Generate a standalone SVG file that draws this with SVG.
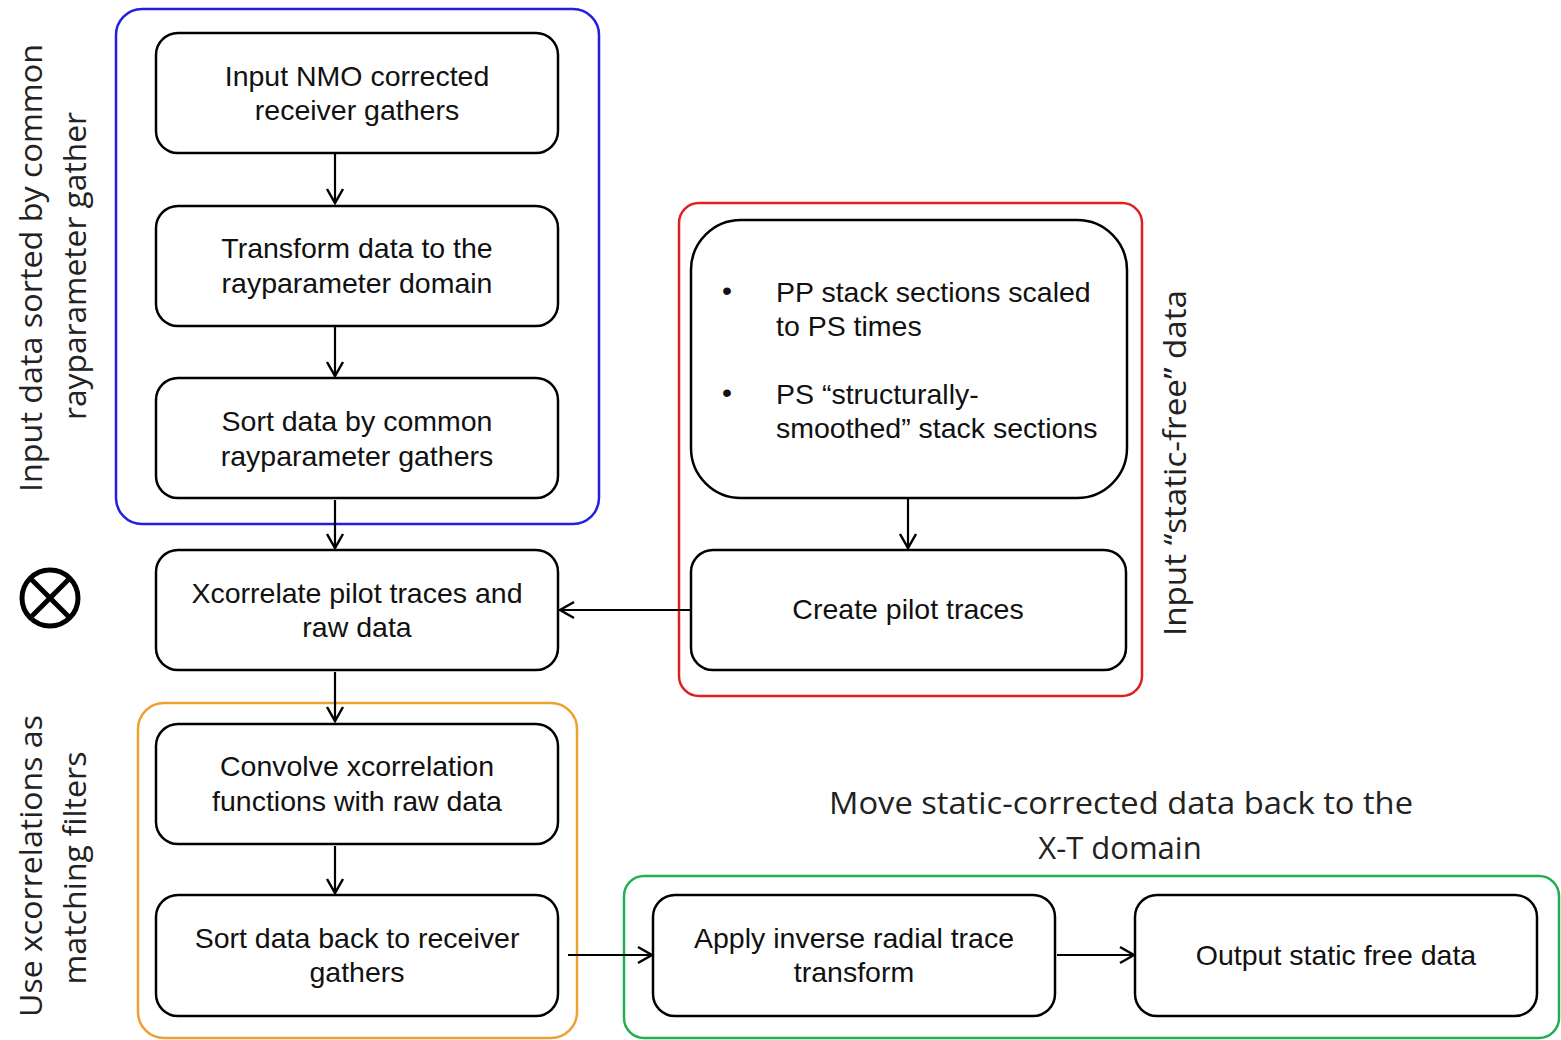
<svg xmlns="http://www.w3.org/2000/svg" width="1561" height="1040" viewBox="0 0 1561 1040">
<style>
.node rect{fill:#fff;stroke:#000;stroke-width:2.5}
.t{font-family:"Liberation Sans",Arial,sans-serif;font-size:28.5px;fill:#111;text-anchor:middle}
.tl{font-family:"Liberation Sans",Arial,sans-serif;font-size:28.5px;fill:#111}
.lab{font-family:"Open Sans","Noto Sans",sans-serif;font-size:31px;fill:#222;text-anchor:middle}
.grp{fill:none;stroke-width:2.5}
.conn line{stroke:#000;stroke-width:2.2;marker-end:url(#ah)}
</style>
<defs>
<marker id="ah" viewBox="0 0 20 20" refX="18" refY="10" markerWidth="20" markerHeight="20" markerUnits="userSpaceOnUse" orient="auto">
<path d="M4,2 L18,10 L4,18" fill="none" stroke="#000" stroke-width="2.5"/>
</marker>
</defs>
<rect width="1561" height="1040" fill="#fff"/>
<g id="groups">
<rect x="116" y="9" width="483" height="515" rx="26" class="grp" stroke="#2020e0"/>
<rect x="138" y="703" width="439" height="335" rx="26" class="grp" stroke="#f0a030"/>
<rect x="679" y="203" width="463" height="493" rx="20" class="grp" stroke="#e02020"/>
<rect x="624" y="876" width="935" height="162" rx="20" class="grp" stroke="#20b050"/>
</g>
<g id="labels">
<text class="lab" transform="translate(42,268) rotate(-90)" textLength="448" lengthAdjust="spacingAndGlyphs">Input data sorted by common</text>
<text class="lab" transform="translate(86,266) rotate(-90)" textLength="308" lengthAdjust="spacingAndGlyphs">rayparameter gather</text>
<text class="lab" transform="translate(42,866) rotate(-90)" textLength="302" lengthAdjust="spacingAndGlyphs">Use xcorrelations as</text>
<text class="lab" transform="translate(86,868) rotate(-90)" textLength="233" lengthAdjust="spacingAndGlyphs">matching filters</text>
<text class="lab" transform="translate(1186,463) rotate(-90)" textLength="346" lengthAdjust="spacingAndGlyphs">Input  “static-free” data</text>
<text class="lab" x="1121" y="814" textLength="584" lengthAdjust="spacingAndGlyphs">Move static-corrected data back to the</text>
<text class="lab" x="1120" y="859">X-T domain</text>
</g>
<g id="xor">
<circle cx="50" cy="598" r="28" fill="none" stroke="#000" stroke-width="5"/>
<line x1="30" y1="578" x2="70" y2="618" stroke="#000" stroke-width="5"/>
<line x1="70" y1="578" x2="30" y2="618" stroke="#000" stroke-width="5"/>
</g>
<g id="n1" class="node"><rect x="156" y="33" width="402" height="120" rx="22"/><text class="t" x="357" y="86">Input NMO corrected</text><text class="t" x="357" y="120">receiver gathers</text></g>
<g id="n2" class="node"><rect x="156" y="206" width="402" height="120" rx="22"/><text class="t" x="357" y="258">Transform data to the</text><text class="t" x="357" y="293">rayparameter domain</text></g>
<g id="n3" class="node"><rect x="156" y="378" width="402" height="120" rx="22"/><text class="t" x="357" y="431">Sort data by common</text><text class="t" x="357" y="466">rayparameter gathers</text></g>
<g id="n4" class="node"><rect x="156" y="550" width="402" height="120" rx="22"/><text class="t" x="357" y="603">Xcorrelate pilot traces and</text><text class="t" x="357" y="637">raw data</text></g>
<g id="n5" class="node"><rect x="156" y="724" width="402" height="120" rx="22"/><text class="t" x="357" y="776">Convolve xcorrelation</text><text class="t" x="357" y="811">functions with raw data</text></g>
<g id="n6" class="node"><rect x="156" y="895" width="402" height="121" rx="22"/><text class="t" x="357" y="948">Sort data back to receiver</text><text class="t" x="357" y="982">gathers</text></g>
<g id="n7" class="node"><rect x="691" y="220" width="436" height="278" rx="50"/>
<text class="tl" x="722" y="300">•</text><text class="tl" x="776" y="302">PP stack sections scaled</text><text class="tl" x="776" y="336">to PS times</text>
<text class="tl" x="722" y="402">•</text><text class="tl" x="776" y="404">PS “structurally-</text><text class="tl" x="776" y="438">smoothed” stack sections</text></g>
<g id="n8" class="node"><rect x="691" y="550" width="435" height="120" rx="22"/><text class="t" x="908" y="619">Create pilot traces</text></g>
<g id="n9" class="node"><rect x="653" y="895" width="402" height="121" rx="22"/><text class="t" x="854" y="948">Apply inverse radial trace</text><text class="t" x="854" y="982">transform</text></g>
<g id="n10" class="node"><rect x="1135" y="895" width="402" height="121" rx="22"/><text class="t" x="1336" y="965">Output static free data</text></g>
<g id="connectors" class="conn">
<line x1="335" y1="153" x2="335" y2="203"/>
<line x1="335" y1="326" x2="335" y2="376"/>
<line x1="335" y1="500" x2="335" y2="548"/>
<line x1="335" y1="672" x2="335" y2="721"/>
<line x1="335" y1="846" x2="335" y2="893"/>
<line x1="908" y1="498" x2="908" y2="548"/>
<line x1="690" y1="610" x2="560" y2="610"/>
<line x1="568" y1="955" x2="652" y2="955"/>
<line x1="1057" y1="955" x2="1134" y2="955"/>
</g>
</svg>
